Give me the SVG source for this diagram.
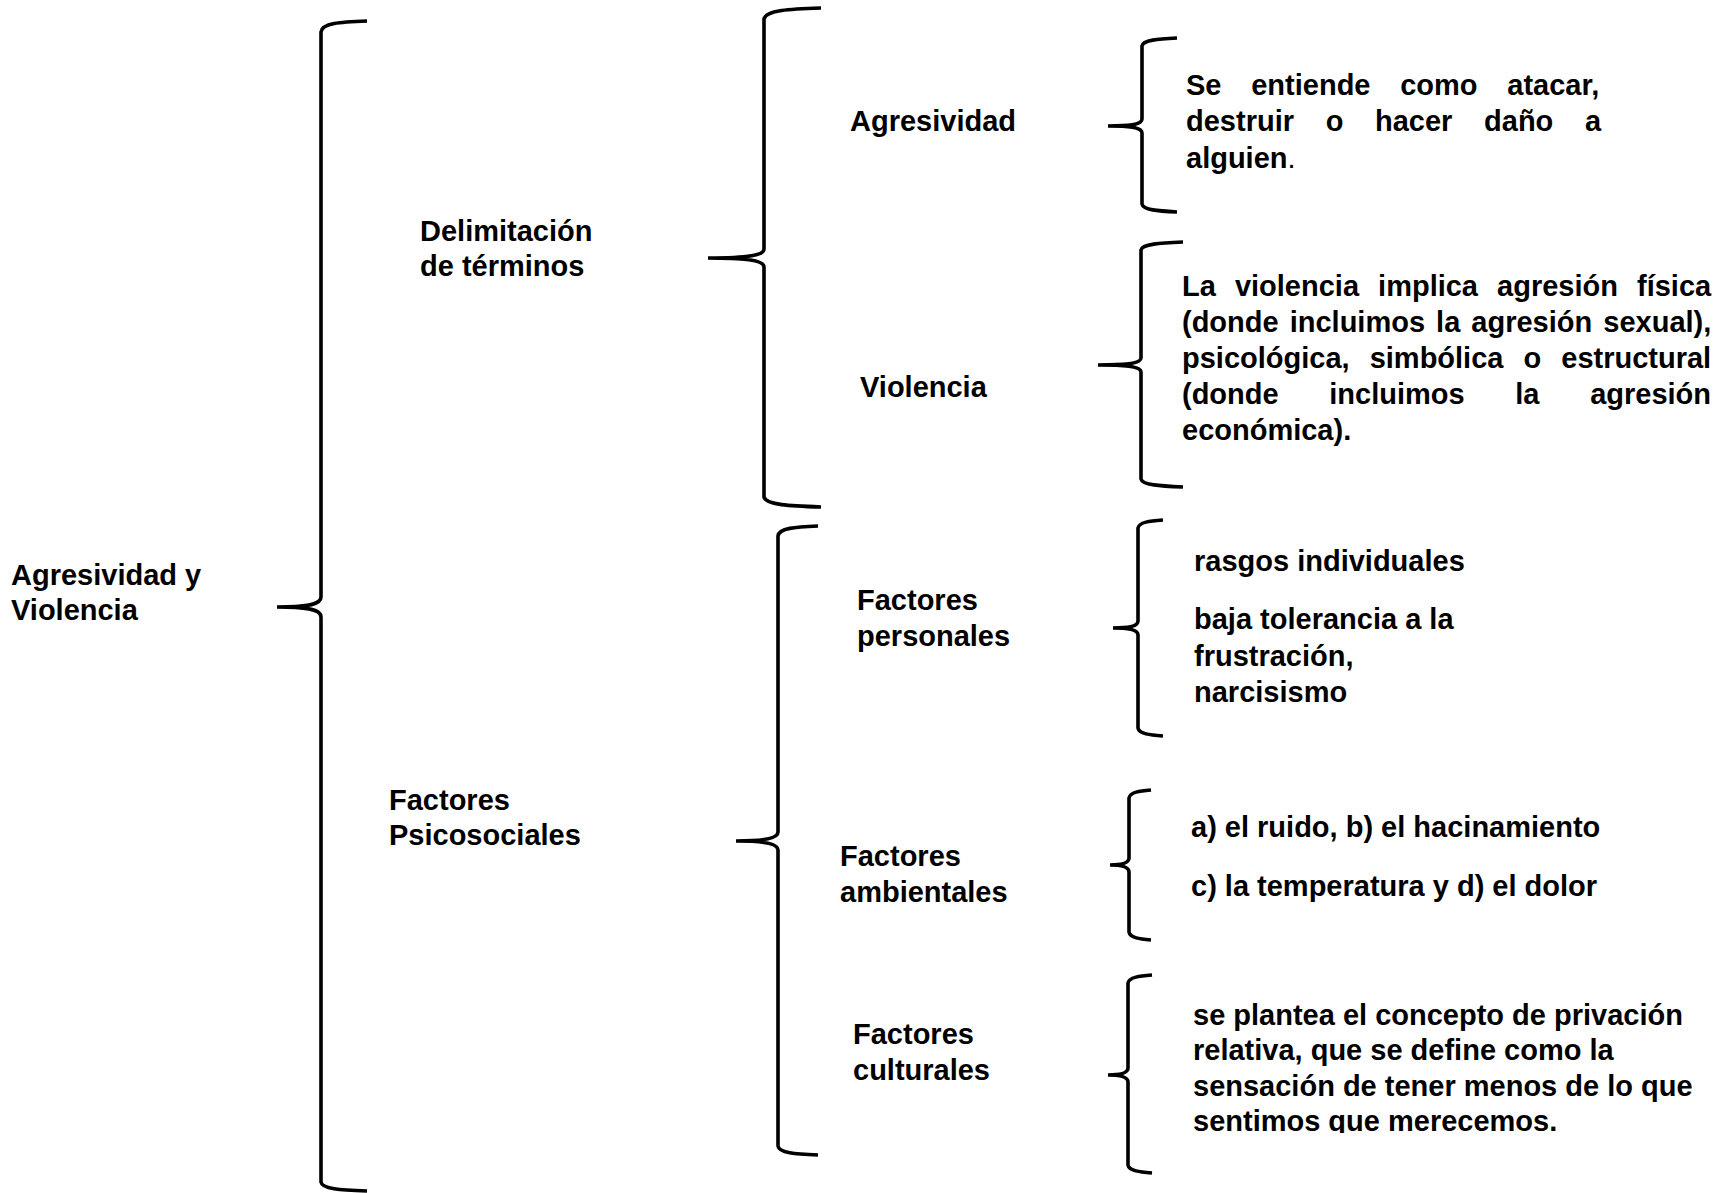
<svg xmlns="http://www.w3.org/2000/svg" width="1723" height="1193" viewBox="0 0 1723 1193">
<style>
text{font-family:"Liberation Sans",Arial,sans-serif;font-weight:bold;font-size:29px;fill:#000}
.br{fill:none;stroke:#000;stroke-width:3.6;stroke-linecap:butt}
.thin{font-weight:normal}
</style>
<defs>
<clipPath id="clipCult"><rect x="1180" y="990" width="540" height="143"/></clipPath>
</defs>
<rect width="1723" height="1193" fill="#fff"/>
<g id="connectors">
<path class="br" d="M367 21 C340 22 322 23 321 32 L321 597 C321 604 310 607 277 607 M277 607 C310 607 321 610 321 617 L321 1182 C322 1189 340 1190 367 1191"/>
<path class="br" d="M821 8 C790 9 766 10 764 19 L764 249 C764 255 750 258 708 258 M708 258 C750 258 764 261 764 267 L764 497 C766 505 790 506 821 507"/>
<path class="br" d="M818 526 C795 527 779 528 778 536 L778 832 C778 838 765 841 736 841 M736 841 C765 841 778 844 778 850 L778 1146 C779 1153 795 1154 818 1155"/>
<path class="br" d="M1177 38 C1158 39 1143 40 1142 46 L1142 119 C1142 124 1132 126 1108 126 M1108 126 C1132 126 1142 128 1142 133 L1142 204 C1143 210 1158 211 1177 212"/>
<path class="br" d="M1183 242 C1160 243 1142 244 1141 250 L1141 358 C1141 363 1128 365 1098 365 M1098 365 C1128 365 1141 367 1141 372 L1141 479 C1142 485 1160 486 1183 487"/>
<path class="br" d="M1163 520 C1150 521 1139 522 1138 528 L1138 621 C1138 626 1130 628 1113 628 M1113 628 C1130 628 1138 630 1138 635 L1138 728 C1139 734 1150 735 1163 736"/>
<path class="br" d="M1151 790 C1140 791 1130 792 1129 798 L1129 858 C1129 863 1123 865 1110 865 M1110 865 C1123 865 1129 867 1129 872 L1129 932 C1130 938 1140 939 1151 940"/>
<path class="br" d="M1152 975 C1140 976 1129 977 1128 983 L1128 1068 C1128 1073 1121 1075 1108 1075 M1108 1075 C1121 1075 1128 1077 1128 1082 L1128 1165 C1129 1171 1140 1172 1152 1173"/>
</g>
<g id="node-root"><text x="11" y="585">Agresividad y</text><text x="11" y="620">Violencia</text></g>
<g id="node-delimitacion"><text x="420" y="241">Delimitación</text><text x="420" y="276">de términos</text></g>
<g id="node-psicosociales"><text x="389" y="810">Factores</text><text x="389" y="845">Psicosociales</text></g>
<g id="node-agresividad"><text x="850" y="131">Agresividad</text></g>
<g id="node-violencia"><text x="860" y="397">Violencia</text></g>
<g id="node-personales"><text x="857" y="610">Factores</text><text x="857" y="646">personales</text></g>
<g id="node-ambientales"><text x="840" y="866">Factores</text><text x="840" y="902">ambientales</text></g>
<g id="node-culturales"><text x="853" y="1044">Factores</text><text x="853" y="1080">culturales</text></g>
<g id="node-def-agresividad">
<text x="1186" y="95" word-spacing="21.7">Se entiende como atacar,</text>
<text x="1186" y="131" word-spacing="23.6">destruir o hacer daño a</text>
<text x="1186" y="168">alguien<tspan class="thin">.</tspan></text>
</g>
<g id="node-def-violencia">
<text x="1182" y="296" word-spacing="11">La violencia implica agresión física</text>
<text x="1182" y="332" word-spacing="3">(donde incluimos la agresión sexual),</text>
<text x="1182" y="368" word-spacing="12">psicológica, simbólica o estructural</text>
<text x="1182" y="404" word-spacing="42.6">(donde incluimos la agresión</text>
<text x="1182" y="440">económica).</text>
</g>
<g id="node-def-personales">
<text x="1194" y="571">rasgos individuales</text>
<text x="1194" y="629">baja tolerancia a la</text>
<text x="1194" y="666">frustración,</text>
<text x="1194" y="702">narcisismo</text>
</g>
<g id="node-def-ambientales">
<text x="1191" y="837">a) el ruido, b) el hacinamiento</text>
<text x="1191" y="896">c) la temperatura y d) el dolor</text>
</g>
<g id="node-def-culturales" clip-path="url(#clipCult)">
<text x="1193" y="1025">se plantea el concepto de privación</text>
<text x="1193" y="1060">relativa, que se define como la</text>
<text x="1193" y="1096">sensación de tener menos de lo que</text>
<text x="1193" y="1131">sentimos que merecemos.</text>
</g>
</svg>
